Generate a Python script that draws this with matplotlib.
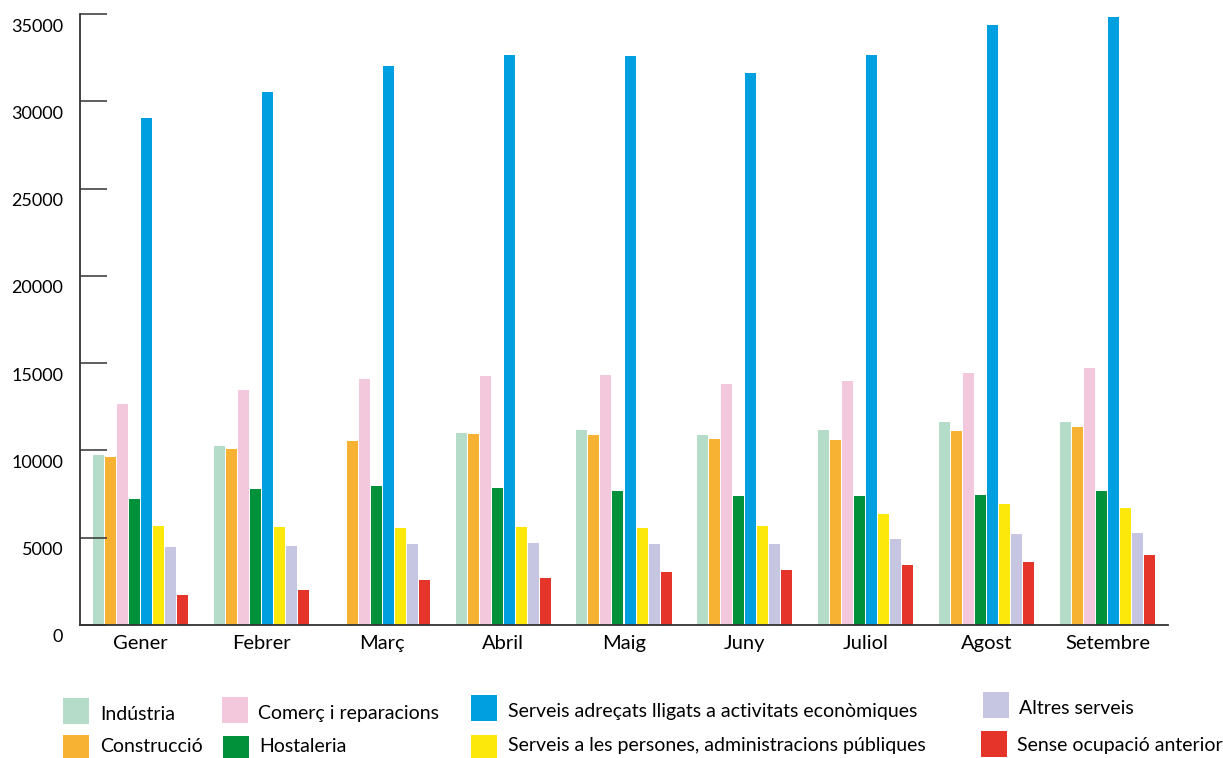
import matplotlib
matplotlib.use('Agg')
import matplotlib.pyplot as plt
from matplotlib.patches import Rectangle
from matplotlib.transforms import ScaledTranslation
import numpy as np

plt.rcParams['font.family'] = ['Lato', 'DejaVu Sans']

# months and series values
months = ['Gener', 'Febrer', 'Març', 'Abril', 'Maig', 'Juny', 'Juliol', 'Agost', 'Setembre']
industria = [9740, 10250, 0, 11000, 11170, 10880, 11170, 11630, 11630]
construccio = [9620, 10080, 10540, 10940, 10880, 10650, 10600, 11110, 11340]
comerc = [12660, 13460, 14090, 14260, 14320, 13800, 13980, 14430, 14720]
hostaleria = [7220, 7790, 7960, 7850, 7680, 7390, 7390, 7450, 7680]
serveis_eco = [29040, 30530, 32020, 32650, 32590, 31620, 32650, 34360, 34820]
serveis_pers = [5670, 5610, 5560, 5610, 5560, 5670, 6360, 6930, 6700]
altres = [4470, 4530, 4640, 4700, 4640, 4640, 4930, 5210, 5270]
sense = [1720, 2010, 2580, 2690, 3040, 3150, 3440, 3610, 4010]

series = [industria, construccio, comerc, hostaleria, serveis_eco, serveis_pers, altres, sense]
names = ['Indústria', 'Construcció', 'Comerç i reparacions', 'Hostaleria',
         'Serveis adreçats lligats a activitats econòmiques',
         'Serveis a les persones, administracions públiques',
         'Altres serveis', 'Sense ocupació anterior']
colors = ['#b5dcc8', '#f7b234', '#f4c8dc', '#00913a', '#009fe0', '#fce80a', '#c6c6e2', '#e5352b']
yticks = [0, 5000, 10000, 15000, 20000, 25000, 30000, 35000]

W, H = 1223, 758
fig = plt.figure(figsize=(W / 100, H / 100), dpi=100)
ax = fig.add_axes([80 / W, 1 - 625 / H, 1088 / W, 611 / H])

x = np.arange(len(months))
pitch = 0.0995
for k, (vals, c) in enumerate(zip(series, colors)):
    ax.bar(x + (k - 3.5) * pitch, vals, width=0.091, color=c, linewidth=0)

ax.set_xlim(-0.5, len(months) - 0.5)
ax.set_ylim(0, 35000)
ax.set_xticks(x)
ax.set_xticklabels(months, fontsize=14.5)
ax.set_yticks(yticks)
ax.set_yticklabels([str(v) for v in yticks], fontsize=13)
ax.tick_params(axis='x', length=0, pad=7)
ax.tick_params(axis='y', direction='in', length=19.5, width=1.1, color='#333333', pad=12)
for lbl in ax.get_yticklabels():
    lbl.set_transform(lbl.get_transform() + ScaledTranslation(0, -11 / 100, fig.dpi_scale_trans))
for s in ['top', 'right']:
    ax.spines[s].set_visible(False)
for s in ['left', 'bottom']:
    ax.spines[s].set_color('#333333')
    ax.spines[s].set_linewidth(1.3)

# legend laid out by hand, two rows
legend_pos = [(63, 698, 100, 714), (63, 735, 100, 747),
              (222, 697, 258, 713), (223, 736, 259, 747),
              (471, 695, 508, 711), (471, 735, 508, 746),
              (983, 692, 1019, 709), (981, 731, 1017, 745)]
for (px, py, tx, ty), name, c in zip(legend_pos, names, colors):
    fig.patches.append(Rectangle((px / W, 1 - (py + 26) / H), 26 / W, 26 / H,
                                 transform=fig.transFigure, color=c, linewidth=0))
    fig.text(tx / W, 1 - ty / H, name, fontsize=14, va='center', ha='left')

fig.savefig('out.png', dpi=100)
